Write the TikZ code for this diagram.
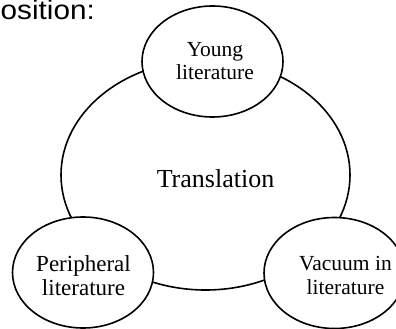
\documentclass[tikz,border=0pt]{standalone}
\usepackage{fontspec}
\setmainfont{Liberation Serif}
\newfontfamily\headsans{Liberation Sans}
\usetikzlibrary{shapes.geometric}
\tikzset{
  outline/.style={draw=black, line width=1.6pt, fill=white},
  bubble/.style={outline, ellipse, inner sep=0pt,
    minimum width=141pt, minimum height=111pt},
  bubbletext/.style={align=center, inner sep=0pt,
    font=\fontsize{21.5}{23.5}\selectfont},
}
\begin{document}
\begin{tikzpicture}[x=1pt, y=-1pt]
  \useasboundingbox (0,0) rectangle (396,329);
  \clip (0,0) rectangle (396,329);

  % heading fragment at the top left
  \node[anchor=base west, inner sep=0pt, xscale=1.1,
        font=\headsans\fontsize{27}{30}\selectfont]
    (head) at (0.5,20) {osition:};

  % central ring
  \node[outline, ellipse, inner sep=0pt, minimum width=289pt, minimum height=230pt]
    (ring) at (205.5,175) {};
  \node[anchor=base, inner sep=0pt, font=\fontsize{26}{28}\selectfont]
    (trans) at (215.5,187) {Translation};

  % three satellite bubbles
  \node[bubble] (young) at (212.5,61.5) {};
  \node[bubble] (periph) at (83,272.5) {};
  \node[bubble] (vacuum) at (334.5,273) {};

  \node[bubbletext] (youngtxt) at (215,61) {Young\\literature};
  \node[bubbletext, font=\fontsize{23}{23.5}\selectfont] (periphtxt) at (83.5,275.5) {Peripheral\\literature};
  \node[bubbletext] (vacuumtxt) at (345.5,275.5) {Vacuum in\\literature};
\end{tikzpicture}
\end{document}
